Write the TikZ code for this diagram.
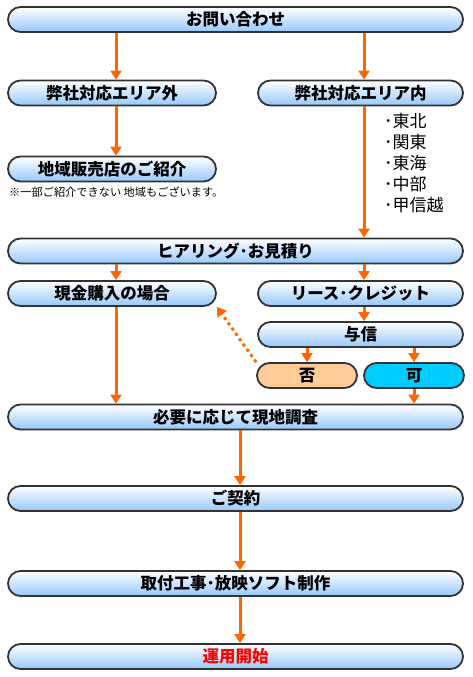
\documentclass[tikz,border=0pt]{standalone}
\usepackage{fontspec}
\setmainfont{Noto Sans CJK JP}
\usetikzlibrary{arrows.meta}
\definecolor{arr}{RGB}{255,102,0}
\definecolor{boxline}{RGB}{51,51,51}
\definecolor{boxbot}{RGB}{150,200,250}
\definecolor{peach}{RGB}{255,204,153}
\definecolor{cyanbox}{RGB}{0,204,255}
\definecolor{redtext}{RGB}{255,0,0}
\tikzset{
  x=1pt,y=1pt,
  flowbox/.style={draw=boxline,line width=1.8pt,rounded corners=12.5pt,
    minimum height=25pt,inner sep=0pt,top color=white,bottom color=boxbot,
    font=\fontsize{16.5}{16.5}\selectfont\bfseries},
  plainbox/.style={draw=boxline,line width=1.8pt,rounded corners=12.5pt,
    minimum height=25pt,inner sep=0pt,
    font=\fontsize{16.5}{16.5}\selectfont\bfseries},
  flow/.style={draw=arr,line width=3pt,-{Triangle[width=11pt,length=9pt]}},
  flowdot/.style={draw=arr,line width=3pt,dash pattern=on 3pt off 3.5pt,
    -{Triangle[width=11pt,length=9pt]}},
}
\begin{document}
\begin{tikzpicture}
\useasboundingbox (0,0) rectangle (473,-677);
\coordinate (cL) at (116,0);
\coordinate (cR) at (364,0);
\coordinate (cM) at (240,0);
\coordinate (cNo) at (307,0);
\coordinate (cYes) at (414,0);

\node[flowbox,minimum width=455pt] (q) at (235.5,-19.5) {お問い合わせ};
\node[flowbox,minimum width=208pt] (out) at (112,-93) {弊社対応エリア外};
\node[flowbox,minimum width=205pt] (in) at (360.5,-93) {弊社対応エリア内};
\node[flowbox,minimum width=208pt] (shop) at (112,-169) {地域販売店のご紹介};
\node[anchor=west,inner sep=0pt,font=\fontsize{11.2}{11.2}\selectfont] (note) at (9,-192) {※一部ご紹介できない 地域もございます。};
\node[anchor=north west,inner sep=0pt,align=left,font=\fontsize{17}{21}\selectfont] (areas) at (384,-113)
  {･東北\\･関東\\･東海\\･中部\\･甲信越};
\node[flowbox,minimum width=455pt] (hear) at (235.5,-251) {ヒアリング･お見積り};
\node[flowbox,minimum width=208pt] (cash) at (112,-293.5) {現金購入の場合};
\node[flowbox,minimum width=205pt] (lease) at (360.5,-293.5) {リース･クレジット};
\node[flowbox,minimum width=205pt] (credit) at (360.5,-334.5) {与信};
\node[plainbox,fill=peach,minimum width=100pt] (no) at (307,-375.5) {否};
\node[plainbox,fill=cyanbox,minimum width=100pt] (yes) at (414,-375.5) {可};
\node[flowbox,minimum width=455pt] (survey) at (235.5,-417) {必要に応じて現地調査};
\node[flowbox,minimum width=455pt] (contract) at (235.5,-498.5) {ご契約};
\node[flowbox,minimum width=455pt] (install) at (235.5,-583.5) {取付工事･放映ソフト制作};
\node[flowbox,minimum width=455pt,text=redtext] (start) at (235.5,-656.5) {運用開始};

\draw[flow] (q.south -| cL) -- (out.north -| cL);
\draw[flow] (q.south -| cR) -- (in.north -| cR);
\draw[flow] (out.south -| cL) -- (shop.north -| cL);
\draw[flow] (in.south -| cR) -- (hear.north -| cR);
\draw[flow] (hear.south -| cL) -- (cash.north -| cL);
\draw[flow] (hear.south -| cR) -- (lease.north -| cR);
\draw[flow] (lease.south -| cR) -- (credit.north -| cR);
\draw[flow] (credit.south -| cNo) -- (no.north -| cNo);
\draw[flow] (credit.south -| cYes) -- (yes.north -| cYes);
\draw[flow] (yes.south -| cYes) -- (survey.north -| cYes);
\draw[flow] (cash.south -| cL) -- (survey.north -| cL);
\draw[flowdot] (no.north west) -- (cash.south east);
\draw[flow] (survey.south -| cM) -- (contract.north -| cM);
\draw[flow] (contract.south -| cM) -- (install.north -| cM);
\draw[flow] (install.south -| cM) -- (start.north -| cM);
\end{tikzpicture}
\end{document}
